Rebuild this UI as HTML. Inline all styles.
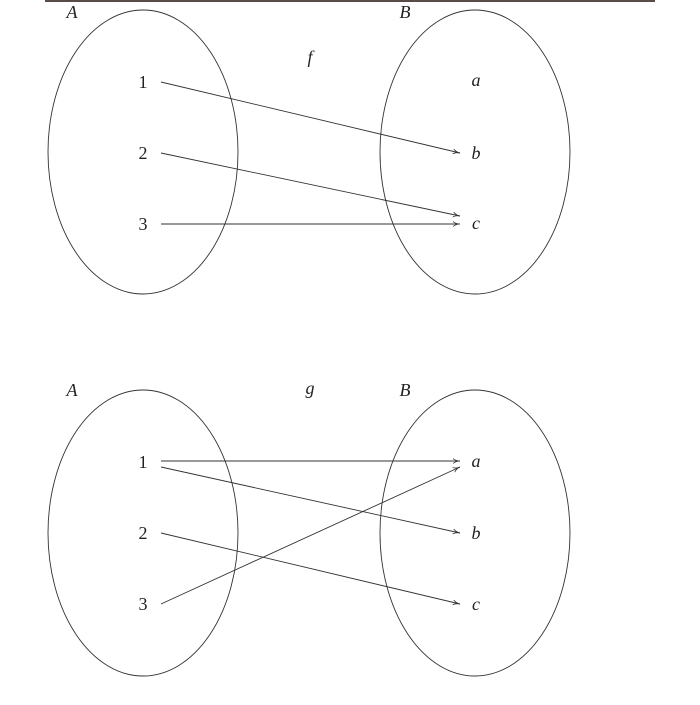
<!DOCTYPE html>
<html><head><style>
body{margin:0;background:#fff;}
svg text{font-family:"Liberation Serif","DejaVu Serif",serif;font-size:18px;fill:#222;}
.i{font-style:italic;}
</style></head><body>
<svg width="700" height="700" viewBox="0 0 700 700" xmlns="http://www.w3.org/2000/svg">
<defs><marker id="ah" markerWidth="8" markerHeight="6" refX="7" refY="3" orient="auto" markerUnits="userSpaceOnUse"><path d="M0,0.5 Q3,3 7,3 Q3,3 0,5.5" fill="none" stroke="#333" stroke-width="0.8"/></marker></defs>
<rect x="45" y="0" width="610" height="2" fill="#5a4a48"/>
<g fill="none" stroke="#333" stroke-width="0.9">
<ellipse cx="143" cy="152" rx="95" ry="142"/>
<ellipse cx="475" cy="152" rx="95" ry="142"/>
<ellipse cx="143" cy="533" rx="95" ry="143"/>
<ellipse cx="475" cy="533" rx="95" ry="143"/>
<g marker-end="url(#ah)">
<line x1="161" y1="82" x2="460" y2="153"/>
<line x1="161" y1="153" x2="460" y2="216"/>
<line x1="161" y1="224" x2="460" y2="224"/>
<line x1="161" y1="461" x2="460" y2="461"/>
<line x1="161" y1="467" x2="460" y2="533"/>
<line x1="161" y1="533" x2="460" y2="604"/>
<line x1="161" y1="604" x2="460" y2="467"/>
</g></g>
<g text-anchor="middle" dominant-baseline="central">
<text x="72" y="12" class="i">A</text>
<text x="405" y="12" class="i">B</text>
<text x="310" y="57" class="i">f</text>
<text x="143" y="82">1</text><text x="143" y="153">2</text><text x="143" y="224">3</text>
<text x="476" y="80" class="i">a</text><text x="476" y="153" class="i">b</text><text x="476" y="223" class="i">c</text>
<text x="72" y="390" class="i">A</text>
<text x="405" y="390" class="i">B</text>
<text x="310" y="388" class="i">g</text>
<text x="143" y="462">1</text><text x="143" y="533">2</text><text x="143" y="604">3</text>
<text x="476" y="461" class="i">a</text><text x="476" y="533" class="i">b</text><text x="476" y="604" class="i">c</text>
</g>
</svg>
</body></html>
